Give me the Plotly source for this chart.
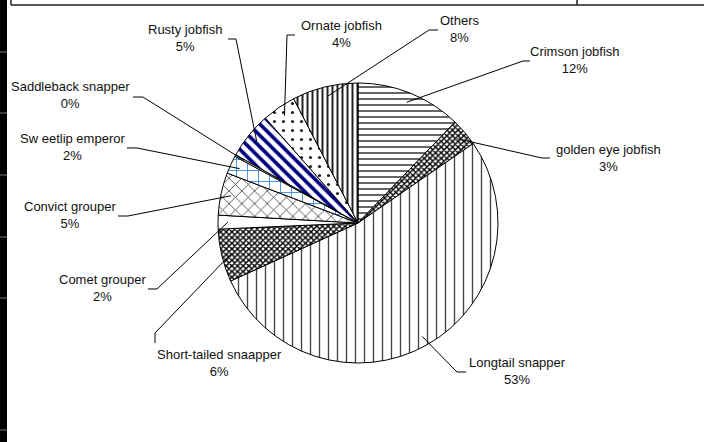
import math
import plotly.graph_objs as go

SPECIES = ["Crimson jobfish", "golden eye jobfish", "Longtail snapper", "Short-tailed snaapper",
           "Comet grouper", "Convict grouper", "Sw eetlip emperor", "Saddleback snapper",
           "Rusty jobfish", "Ornate jobfish", "Others"]
SHARE = [12.2, 3.2, 52.8, 6.1, 1.6, 4.9, 2.1, 0.2, 5.4, 3.9, 7.6]

W, H = 704, 442
CX, CY, R = 358, 223, 140  # pie centre / radius in px

# fill patterns (shape, fg colour, size, solidity)
PATTERNS = [
  dict(shape="-", fgcolor="#555555", size=6, solidity=0.3),
  dict(shape="x", fgcolor="#000000", size=4, solidity=0.6),
  dict(shape="|", fgcolor="#444444", size=9, solidity=0.15),
  dict(shape="x", fgcolor="#000000", size=4, solidity=0.6),
  dict(shape=""),
  dict(shape="x", fgcolor="#444444", size=9, solidity=0.18),
  dict(shape="+", fgcolor="#2F86E0", size=11, solidity=0.15),
  dict(shape=""),
  dict(shape="\\", fgcolor="#000080", size=8, solidity=0.45),
  dict(shape=".", fgcolor="#222222", size=9, solidity=0.1),
  dict(shape="|", fgcolor="#222222", size=5, solidity=0.4),
]

# label centre, label-side end of leader, elbow (px)
LABEL_XY = [(575, 60), (608, 158), (517, 371), (219, 363), (102, 288), (70, 215),
            (72, 147), (70, 95), (185, 38), (341, 34), (460, 29)]
LEADER_A = [(530, 61), (550, 158), (466, 372), (155, 343), (148, 289), (118, 216),
            (127, 148), (133, 97), (228, 39), (295, 35), (438, 30)]
LEADER_B = [(523, 61), (542, 158), (457, 372), (155, 333), (157, 289), (128, 216),
            (137, 148), (143, 97), (236, 39), (287, 35), (429, 30)]

def px(x, y):
  return x / W, 1 - y / H

fig = go.Figure()

x0, y1 = px(CX - R, CY - R)
x1, y0 = px(CX + R, CY + R)
fig.add_trace(go.Pie(
  labels=SPECIES, values=SHARE, sort=False, direction="clockwise", rotation=0,
  textinfo="none", hoverinfo="label+percent",
  marker=dict(colors=["white"] * len(SHARE), line=dict(color="black", width=1),
              pattern=dict(shape=[p["shape"] for p in PATTERNS],
                           fgcolor=[p.get("fgcolor", "black") for p in PATTERNS],
                           size=[p.get("size", 8) for p in PATTERNS],
                           solidity=[p.get("solidity", 0.3) for p in PATTERNS],
                           bgcolor="white", fgopacity=1, fillmode="replace")),
  domain=dict(x=[x0, x1], y=[y0, y1]), showlegend=False,
))

total = sum(SHARE)
cum = 0
annotations = []
shapes = []
for i, v in enumerate(SHARE):
  mid = math.radians(360 * (cum + v / 2) / total)
  cum += v
  ex, ey = CX + 0.93 * R * math.sin(mid), CY - 0.93 * R * math.cos(mid)
  pct = f"{round(100 * v / total)}%"
  lx, ly = px(*LABEL_XY[i])
  annotations.append(dict(x=lx, y=ly, xref="paper", yref="paper", showarrow=False,
                          xanchor="center", yanchor="middle",
                          text=f"{SPECIES[i]}<br>{pct}", align="center",
                          font=dict(family="Liberation Sans, Arial", size=13, color="#111")))
  pts = [px(*LEADER_A[i]), px(*LEADER_B[i]), px(ex, ey)]
  path = "M " + " L ".join(f"{a:.4f},{b:.4f}" for a, b in pts)
  shapes.append(dict(type="path", path=path, xref="paper", yref="paper",
                     line=dict(color="black", width=1)))

# page frame bits from the source document
shapes.append(dict(type="rect", xref="paper", yref="paper", x0=0, x1=7 / W, y0=0, y1=1,
                   fillcolor="black", line=dict(width=0)))
for ty in [52, 113, 175, 237, 298, 430]:
  shapes.append(dict(type="line", xref="paper", yref="paper", x0=0, x1=7 / W,
                     y0=1 - ty / H, y1=1 - ty / H, line=dict(color="#777", width=1)))
shapes.append(dict(type="line", xref="paper", yref="paper", x0=11 / W, x1=1,
                   y0=1 - 5 / H, y1=1 - 5 / H, line=dict(color="#222", width=1.5)))
for vx in [11, 577]:
  shapes.append(dict(type="line", xref="paper", yref="paper", x0=vx / W, x1=vx / W,
                     y0=1, y1=1 - 5 / H, line=dict(color="#222", width=1.5)))

fig.update_layout(
  width=W, height=H, margin=dict(l=0, r=0, t=0, b=0),
  paper_bgcolor="white", plot_bgcolor="white",
  annotations=annotations, shapes=shapes,
)

config = {'displayModeBar': False}

fig.write_html("out.html", config=config, post_script="document.body.style.margin='0px';")
